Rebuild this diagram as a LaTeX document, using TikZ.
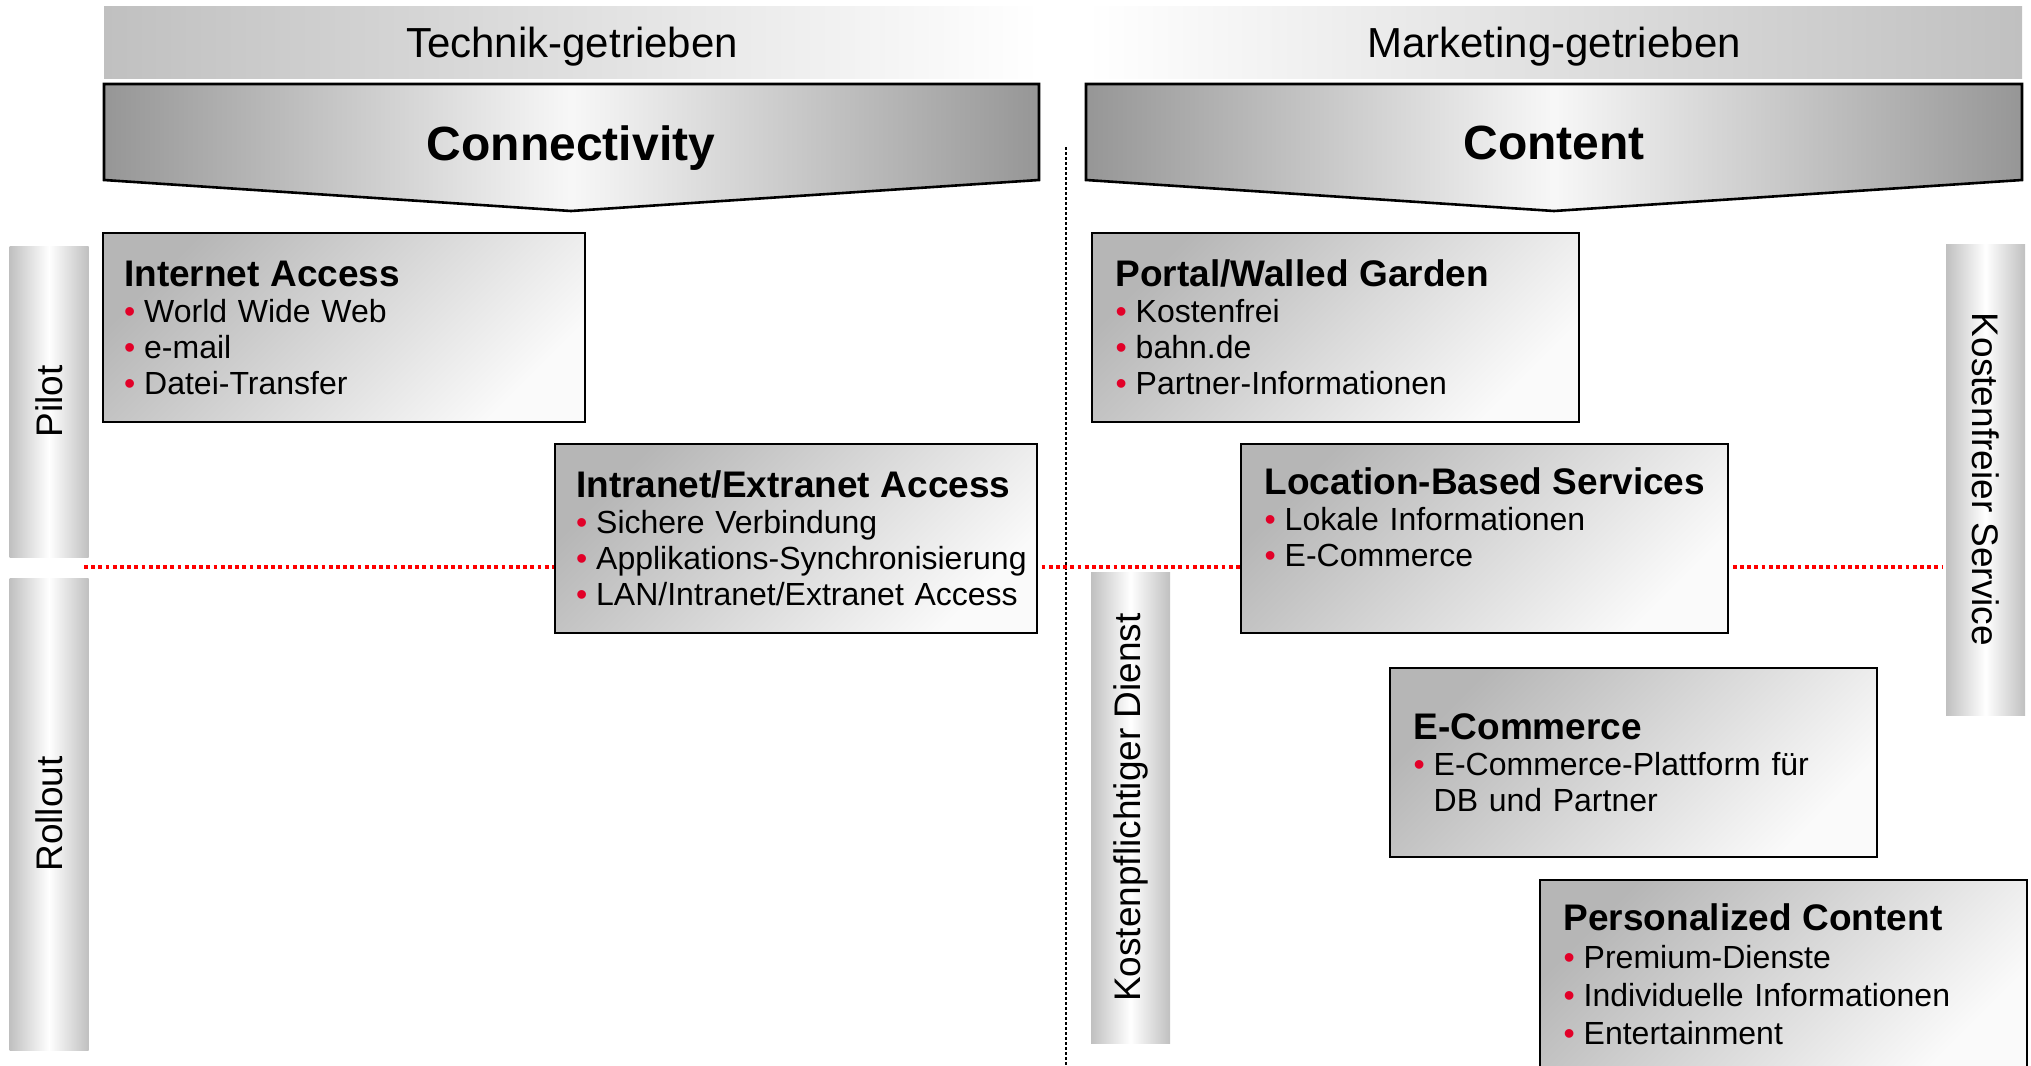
\documentclass[tikz,border=0pt]{standalone}
\usepackage{fontspec}
\setmainfont{Liberation Sans}
\usetikzlibrary{positioning}
\definecolor{BarGray}{RGB}{192,192,192}
\definecolor{EdgeGray}{RGB}{150,150,150}
\definecolor{DotRed}{RGB}{255,0,0}
\definecolor{BulletRed}{RGB}{226,0,40}
\newcommand{\cardtitle}[1]{\mbox{\fontsize{18.5}{18}\selectfont\bfseries #1}}
\newcommand{\itm}[1]{\mbox{\makebox[10pt][l]{\textcolor{BulletRed}{\textbullet}}#1}}
\begin{document}
\begin{tikzpicture}[x=0.5pt,y=-0.5pt,
  hdr/.style={minimum width=468pt,minimum height=36pt,inner sep=0pt,text depth=0pt,font=\fontsize{21}{24}\selectfont},
  banner/.style={draw,line width=1.3pt,line join=miter,left color=EdgeGray,right color=EdgeGray,middle color=white!97!black},
  bannertxt/.style={text depth=0pt,font=\fontsize{24}{28}\selectfont\bfseries},
  phase/.style={minimum width=39.5pt,inner sep=0pt,left color=BarGray,right color=BarGray,middle color=white,font=\fontsize{18.5}{22}\selectfont},
  card/.style={draw,line width=1.2pt,anchor=north west,minimum width=241pt,minimum height=94.5pt,text width=220pt,inner xsep=10.5pt,align=left,top color=BarGray!95!black,bottom color=white!98!black,shading angle=45,font=\fontsize{16}{18}\selectfont},
  wide/.style={minimum width=243.5pt},
  divider/.style={DotRed,line width=1.9pt,dash pattern=on 1.9pt off 1.7pt},
  split/.style={black,line width=1.3pt,dash pattern=on 1.3pt off 1.2pt}
]
  \useasboundingbox (0,0) rectangle (2031,1066);

  \node[hdr,left color=BarGray,right color=white] (hdrtech) at (572,42) {Technik-getrieben};
  \node[hdr,left color=white,right color=BarGray] (hdrmkt) at (1554,42) {Marketing-getrieben};

  \draw[banner] (104,84) -- (1039,84) -- (1039,180) -- (571,211) -- (104,180) -- cycle;
  \draw[banner] (1086,84) -- (2022,84) -- (2022,180) -- (1554,211) -- (1086,180) -- cycle;
  \node[bannertxt] (conn) at (571,143) {Connectivity};
  \node[bannertxt] (cont) at (1554,143) {Content};

  \draw[split] (1066,147) -- (1066,1066);
  \draw[divider] (84,567) -- (1943,567);

  \node[phase,minimum height=155.5pt] (pilot) at (49,401.5) {\rotatebox{90}{Pilot}};
  \node[phase,minimum height=236pt] (rollout) at (49,814) {\rotatebox{90}{Rollout}};
  \node[phase,minimum height=235.5pt] (paid) at (1130.5,807.5) {\rotatebox{90}{Kostenpflichtiger Dienst}};
  \node[phase,minimum height=235.5pt] (free) at (1985.5,479.5) {\rotatebox{-90}{Kostenfreier Service}};

  \node[card] (inet) at (102,232) {\cardtitle{Internet Access}\\ \itm{World Wide Web}\\ \itm{e-mail}\\ \itm{Datei-Transfer}};
  \node[card] (intra) at (554,443) {\cardtitle{Intranet/Extranet Access}\\ \itm{Sichere Verbindung}\\ \itm{Applikations-Synchronisierung}\\ \itm{LAN/Intranet/Extranet Access}};
  \node[card,wide] (portal) at (1091,232) {\cardtitle{Portal/Walled Garden}\\ \itm{Kostenfrei}\\ \itm{bahn.de}\\ \itm{Partner-Informationen}};
  \node[card,wide,text depth=58pt] (loc) at (1240,443) {\cardtitle{Location-Based Services}\\ \itm{Lokale Informationen}\\ \itm{E-Commerce}};
  \node[card,wide] (ecom) at (1389,667) {\cardtitle{E-Commerce}\\ \itm{E-Commerce-Plattform für}\\ \hspace*{10pt}DB und Partner};
  \node[card,wide,font=\fontsize{16}{19}\selectfont] (pers) at (1539,879) {\cardtitle{Personalized Content}\\ \itm{Premium-Dienste}\\ \itm{Individuelle Informationen}\\ \itm{Entertainment}};
\end{tikzpicture}
\end{document}
